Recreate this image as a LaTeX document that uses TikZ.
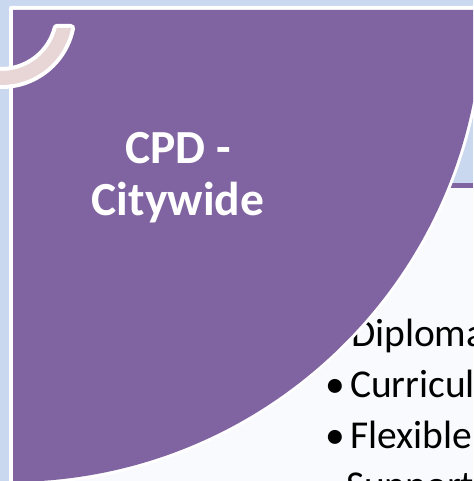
\documentclass[tikz,border=0pt]{standalone}
\usepackage{fontspec}
\setmainfont{Carlito}
\definecolor{pagebg}{HTML}{CAD8EF}
\definecolor{panelbg}{HTML}{F9FAFD}
\definecolor{plum}{HTML}{8064A2}
\definecolor{blush}{HTML}{E8D6D6}
\tikzset{
  title/.style={text=white,font=\fontsize{47.5}{50}\selectfont\bfseries,anchor=base},
  body/.style={text=black,font=\fontsize{39.5}{42}\selectfont,anchor=base west,inner sep=0pt,outer sep=0pt},
}
\newcommand{\bandpath}{(71.1,28) arc[start angle=11.4,end angle=100,radius=71] -- (-8.4,70.1) arc[start angle=100,end angle=14.2,radius=57] -- cycle}
\begin{document}
\begin{tikzpicture}[x=1pt,y=-1pt]
\useasboundingbox (0,0) rectangle (473,481);
\clip (0,0) rectangle (473,481);
\fill[pagebg] (0,0) rectangle (473,481);
% white frame and inner panel
\fill[white,rounded corners=2pt] (9,6) rectangle (480,490);
\fill[pagebg] (440,10) rectangle (473,183);
\fill[plum] (440,183) rectangle (473,188);
\fill[panelbg] (13,188) rectangle (473,481);
% body text
\node[body] (l1) at (351,346) {Diploma};
\node[body] (b2) at (325,397) {•};
\node[body] (l2) at (350,397) {Curricul};
\node[body] (b3) at (325,448) {•};
\node[body] (l3) at (350,448) {Flexible};
\node[body] (l4) at (346,498) {Support};
% quarter disc
\fill[white] (10,10) -- (485,10) arc[start angle=0,end angle=90,radius=475] -- cycle;
\fill[plum] (13,10) -- (482,10) arc[start angle=0,end angle=88,radius=472] -- (13,481.5) -- cycle;
% ornament
\filldraw[white,line width=8pt,line join=round] \bandpath;
\fill[blush] \bandpath;
\node[title] (t1) at (178,164) {CPD -};
\node[title] (t2) at (178,215) {Citywide};
\end{tikzpicture}
\end{document}
